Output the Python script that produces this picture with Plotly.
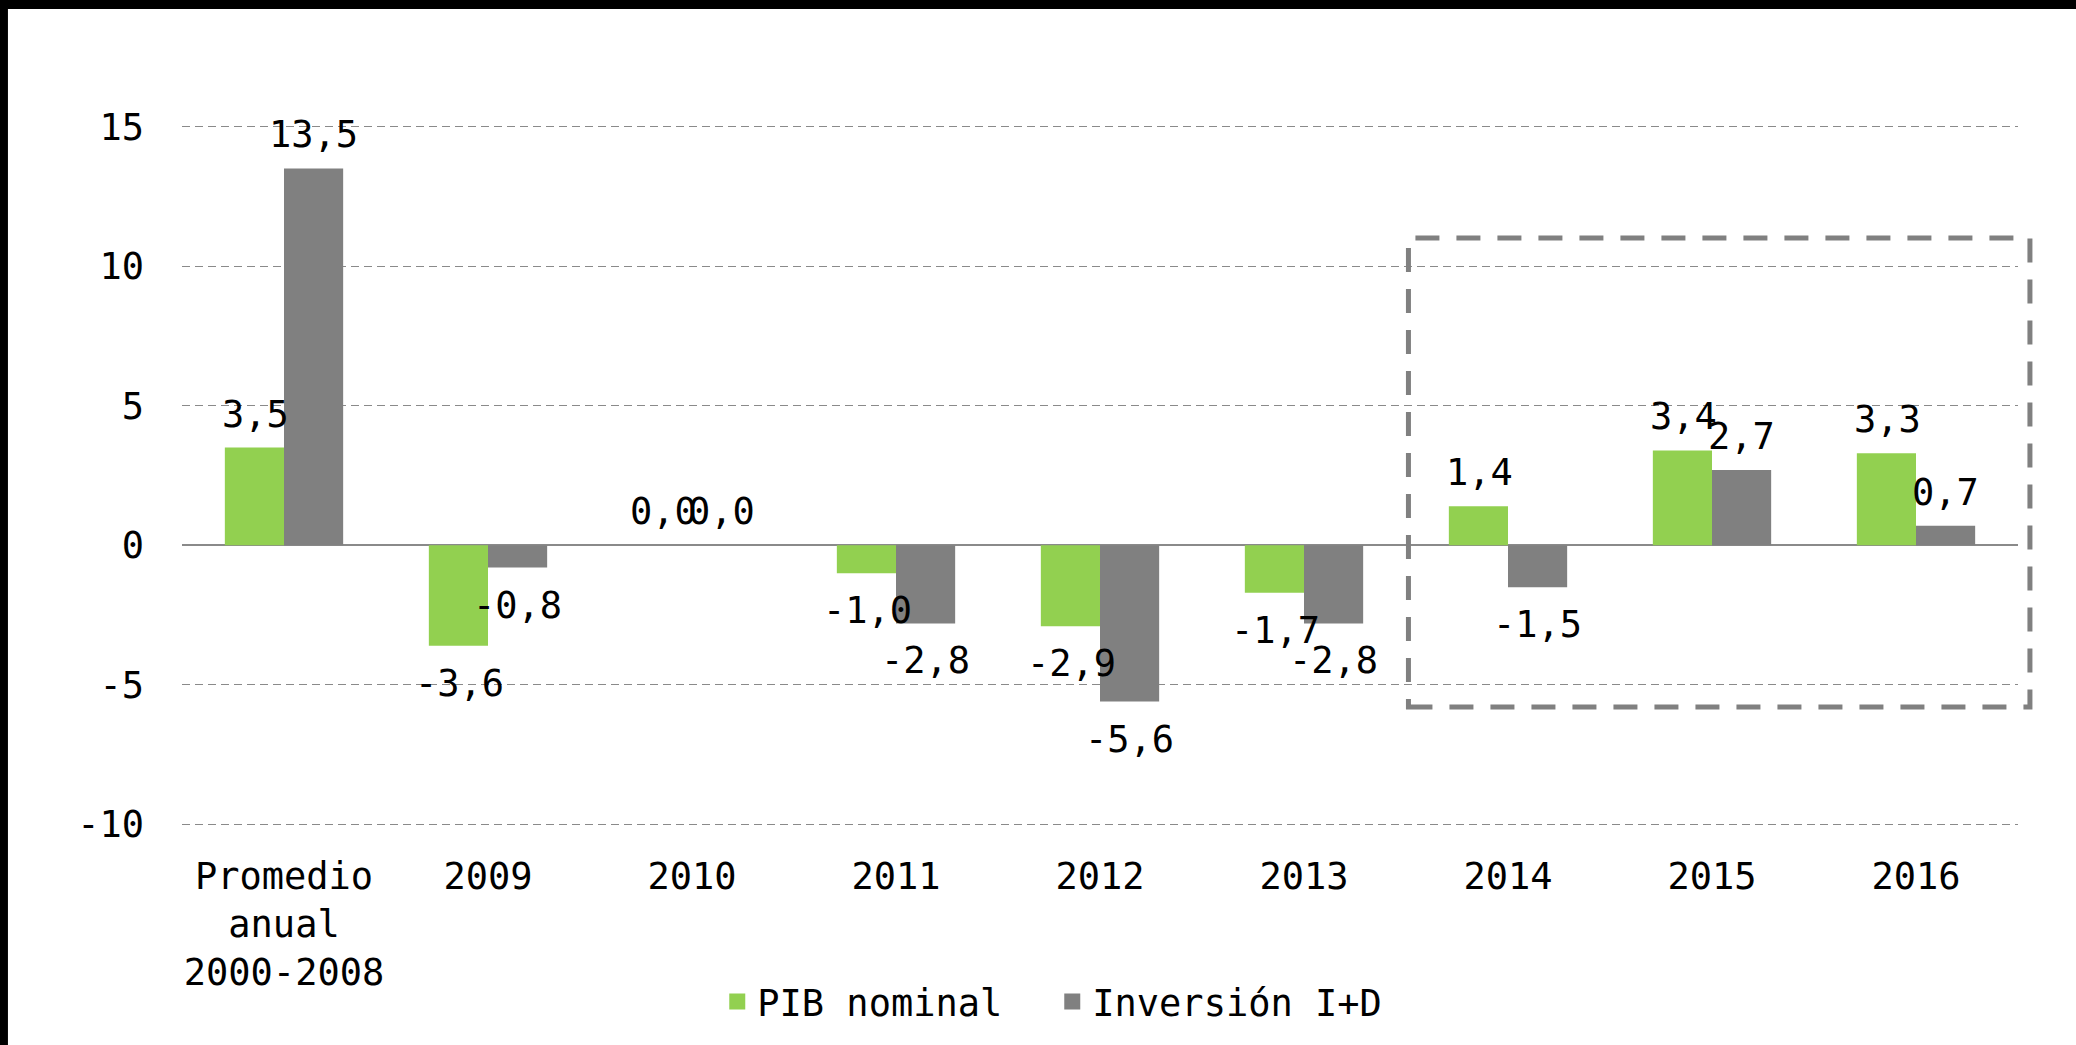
import plotly.graph_objects as go

categories = ["Promedio<br>anual<br>2000-2008", "2009", "2010", "2011", "2012", "2013", "2014", "2015", "2016"]
pib_nominal = [3.5, -3.6, 0.0, -1.0, -2.9, -1.7, 1.4, 3.4, 3.3]
inversion_id = [13.5, -0.8, 0.0, -2.8, -5.6, -2.8, -1.5, 2.7, 0.7]
series_names = ["PIB nominal", "Inversión I+D"]
y_ticks = [-10, -5, 0, 5, 10, 15]
y_tick_labels = ["-10", "-5", "0", "5", "10", "15"]

FONT = "DejaVu Sans Mono"
FS = 37
GREEN = "#92D050"
GRAY = "#808080"
colors = [GREEN, GRAY]

fig = go.Figure()
for name, vals, col in zip(series_names, (pib_nominal, inversion_id), colors):
    fig.add_trace(go.Bar(x=categories, y=vals, name=name, showlegend=False,
                         marker=dict(color=col, line=dict(width=0))))
# legend entries with larger square swatches
for name, col in zip(series_names, colors):
    fig.add_trace(go.Scatter(x=[None], y=[None], mode="markers", name=name,
                             marker=dict(symbol="square", size=18, color=col, line=dict(width=0))))

def fmt(v):
    return f"{v:.1f}".replace(".", ",")

annotations = []
for series, shift in ((pib_nominal, -29), (inversion_id, 29)):
    for i, v in enumerate(series):
        pos = v >= 0
        annotations.append(dict(
            x=i, y=v, xref="x", yref="y", text=fmt(v), showarrow=False,
            xshift=shift, yshift=10 if pos else -14,
            yanchor="bottom" if pos else "top",
            font=dict(family=FONT, size=FS, color="black"),
        ))

shapes = [
    # dashed highlight box
    dict(type="rect", xref="paper", yref="paper", x0=0.668, x1=1.0065, y0=0.1735, y1=0.835,
         line=dict(color=GRAY, width=5, dash="24px,17px"), fillcolor="rgba(0,0,0,0)", layer="above"),
    # black frame (top & left)
    dict(type="rect", xref="paper", yref="paper", x0=-0.1, x1=1.04, y0=1.158, y1=1.19,
         line=dict(width=0), fillcolor="black", layer="above"),
    dict(type="rect", xref="paper", yref="paper", x0=-0.1, x1=-0.0948, y0=-0.32, y1=1.19,
         line=dict(width=0), fillcolor="black", layer="above"),
]

fig.update_layout(
    width=2076, height=1045,
    margin=dict(l=182, r=58, t=121, b=215),
    paper_bgcolor="white", plot_bgcolor="white",
    barmode="group", bargap=0.42, bargroupgap=0,
    font=dict(family=FONT, size=FS, color="black"),
    showlegend=True,
    legend=dict(orientation="h", x=0.474, xanchor="center", y=-0.2426, yanchor="middle",
                font=dict(family=FONT, size=FS, color="black"), itemwidth=30,
                itemsizing="trace", entrywidth=290),
    annotations=annotations,
    shapes=shapes,
)
fig.update_xaxes(type="category", range=[-0.5, len(categories) - 0.5],
                 showgrid=False, showline=False, ticks="", ticklabelstandoff=21,
                 tickfont=dict(family=FONT, size=FS, color="black"))
fig.update_yaxes(range=[-10.2, 15.2], tickvals=y_ticks, ticktext=y_tick_labels,
                 showgrid=True, gridcolor="#8a8a8a", gridwidth=1, griddash="8px,5px",
                 zeroline=True, zerolinecolor="#8a8a8a", zerolinewidth=2,
                 showline=False, ticks="", ticklabelstandoff=37,
                 tickfont=dict(family=FONT, size=FS, color="black"))

fig.write_html("out.html", config={"displayModeBar": False},
               post_script="document.body.style.margin='0';")
